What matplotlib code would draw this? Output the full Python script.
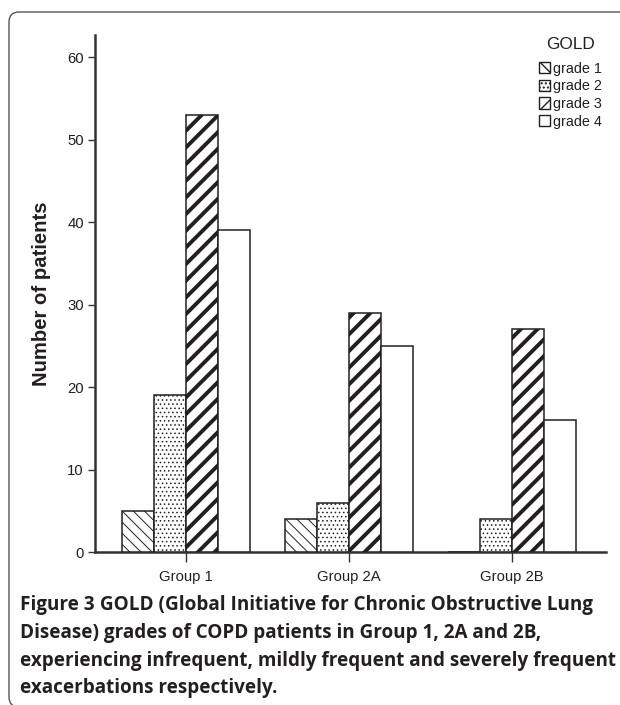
"""
GOLD grades of COPD patients per exacerbation group, grouped bar chart
with hatched bars and the figure caption underneath.
"""

import numpy as np
import matplotlib
matplotlib.use("Agg")
import matplotlib.pyplot as plt
from matplotlib.patches import FancyBboxPatch, Patch
from matplotlib.transforms import IdentityTransform

GROUPS = ["Group 1", "Group 2A", "Group 2B"]
GRADES = ["grade 1", "grade 2", "grade 3", "grade 4"]
GRADE1 = [5, 4, 0]
GRADE2 = [19, 6, 4]
GRADE3 = [53, 29, 27]
GRADE4 = [39, 25, 16]
YTICKS = [0, 10, 20, 30, 40, 50, 60]

CAPTION_HEAD = "Figure 3"
CAPTION = [
    " GOLD (Global Initiative for Chronic Obstructive Lung",
    "Disease) grades of COPD patients in Group 1, 2A and 2B,",
    "experiencing infrequent, mildly frequent and severely frequent",
    "exacerbations respectively.",
]

INK = "#231f20"
plt.rcParams["font.family"] = ["Liberation Sans", "DejaVu Sans"]

fig = plt.figure(figsize=(6.2, 7.05), dpi=100)
ax = fig.add_axes([95 / 620, 1 - 552 / 705, 511 / 620, 517 / 705])

# bar styling: hatch, face, hatch line width
styles = [
    dict(hatch="\\\\\\", face="white", hlw=0.7),
    dict(hatch="....", face="white", hlw=0.6),
    dict(hatch="//", face="white", hlw=2.8),
    dict(hatch="", face="white", hlw=1.0),
]

x = np.arange(len(GROUPS))
w = 0.196
series = [GRADE1, GRADE2, GRADE3, GRADE4]
handles = []
for i, (vals, st) in enumerate(zip(series, styles)):
    bars = ax.bar(x + (i - 1.5) * w, vals, width=w, facecolor=st["face"],
                  edgecolor=INK, linewidth=1.1, hatch=st["hatch"], zorder=3)
    for b in bars:
        if hasattr(b, "set_hatch_linewidth"):
            b.set_hatch_linewidth(st["hlw"])
    h = Patch(facecolor=st["face"], edgecolor=INK, linewidth=1.0,
              hatch=st["hatch"])
    if hasattr(h, "set_hatch_linewidth"):
        h.set_hatch_linewidth(min(st["hlw"], 2.0))
    handles.append(h)

ax.set_xlim(-0.558, 2.577)
ax.set_ylim(0, 62.7)
for s in ("top", "right"):
    ax.spines[s].set_visible(False)
for s in ("left", "bottom"):
    ax.spines[s].set_linewidth(1.8)
    ax.spines[s].set_color("#333333")
ax.set_yticks(YTICKS)
ax.set_xticks(x)
ax.set_xticklabels(GROUPS)
ax.tick_params(axis="both", direction="out", length=5, width=1.0,
               color="#333333", labelsize=10.7, labelcolor=INK, pad=3)
ax.tick_params(axis="x", length=7, pad=6)
ax.set_ylabel("Number of patients", fontsize=14.6, fontweight="bold",
              color=INK, labelpad=12)

leg = fig.legend(handles, GRADES, title="GOLD", loc="upper right",
                 bbox_to_anchor=(608 / 620, 1 - 31 / 705), frameon=False,
                 handlelength=0.8, handleheight=0.8, handletextpad=0.2,
                 labelspacing=0.26, fontsize=10.4, title_fontsize=12.4,
                 borderaxespad=0)
leg._legend_box.align = "center"
leg.get_title().set_color(INK)
for t in leg.get_texts():
    t.set_color(INK)
leg._legend_box.sep = 7

# panel frame with rounded corner
frame = FancyBboxPatch((9, -2), 660, 705 - 12 + 2,
                       boxstyle="round,pad=0,rounding_size=10",
                       transform=IdentityTransform(), facecolor="none",
                       edgecolor="#555555", linewidth=1.0)
fig.patches.append(frame)

# caption: bold "Figure 3" followed by the title lines
cap_font = dict(family=["Open Sans", "DejaVu Sans"], fontsize=13.6,
                fontweight="bold", color=INK, va="center", ha="left")
ys = [605, 633, 661, 688]
head = fig.text(20 / 620, 1 - ys[0] / 705, CAPTION_HEAD, **cap_font)
fig.canvas.draw()
bb = head.get_window_extent()
fig.text(bb.x1 / 620, 1 - ys[0] / 705, CAPTION[0], **cap_font)
for line, y in zip(CAPTION[1:], ys[1:]):
    fig.text(20 / 620, 1 - y / 705, line, **cap_font)

fig.savefig("out.png", dpi=100)
